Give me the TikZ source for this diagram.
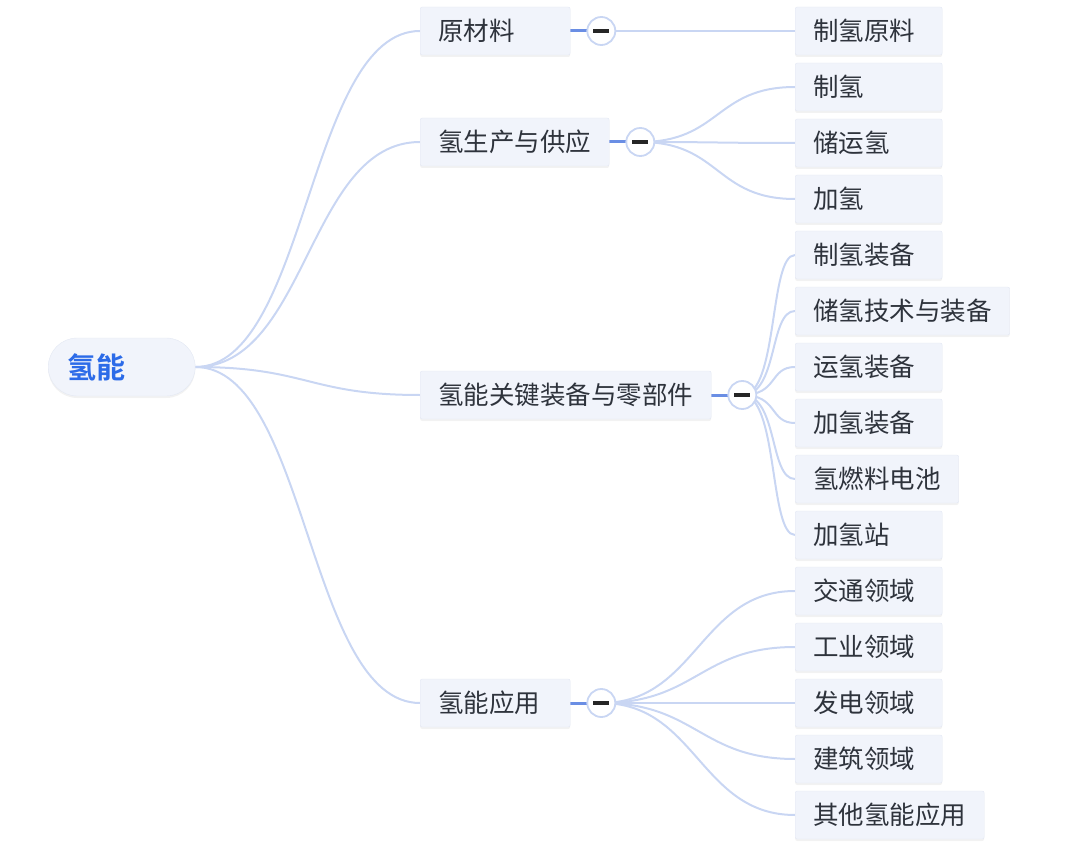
\documentclass[tikz,border=0pt]{standalone}
\usepackage{fontspec}
\setmainfont{Noto Sans CJK SC}[BoldFont={Noto Sans CJK SC Bold}]
\usetikzlibrary{positioning,shadows,backgrounds}

\definecolor{edgeblue}{HTML}{C9D6F3}
\definecolor{stemblue}{HTML}{6A8EE4}
\definecolor{rootblue}{HTML}{2C6BE8}
\definecolor{boxfill}{HTML}{F1F4FB}
\definecolor{boxline}{HTML}{E3E8F3}
\definecolor{textgray}{HTML}{2E333C}

\tikzset{
  box/.style={draw=boxline, fill=boxfill, rounded corners=2pt, anchor=west,
              inner xsep=18pt, inner ysep=0pt, minimum height=48pt,
              font=\fontsize{25.5}{29}\selectfont, text=textgray,
              drop shadow={opacity=0.10, shadow xshift=0pt, shadow yshift=-2pt}},
  shortbox/.style={box, text width=111pt, align=left},
  rootbox/.style={draw=boxline, fill=boxfill, rounded corners=29pt, anchor=west,
              inner xsep=19pt, inner ysep=0pt, minimum height=58pt,
              text width=109pt, align=left,
              font=\fontsize{29}{33}\selectfont\bfseries, text=rootblue,
              drop shadow={opacity=0.10, shadow xshift=0pt, shadow yshift=-2pt}},
  toggle/.style={circle, draw=edgeblue, fill=white, line width=1.8pt,
              minimum size=28pt, inner sep=0pt, text=black!85},
  edge/.style={draw=edgeblue, line width=2pt},
  stem/.style={draw=stemblue, line width=3pt}
}

\begin{document}
\begin{tikzpicture}[x=1pt, y=-1pt]
  \useasboundingbox (0,0) rectangle (1080,848);

  \node[rootbox] (h2) at (48,367) {氢能};

  % first level
  \node[box, text width=114pt, align=left] (raw) at (420,31) {原材料};
  \node[box] (sup) at (420,142) {氢生产与供应};
  \node[box] (equ) at (420,395) {氢能关键装备与零部件};
  \node[box, text width=114pt, align=left] (app) at (420,703) {氢能应用};

  \foreach \n in {raw,sup,equ,app}
    \node[toggle, right=16pt of \n] (\n T) {\rule[-1.75pt]{16pt}{3.5pt}};

  % second level
  \foreach \txt/\y/\sty in {制氢原料/31/shortbox, 制氢/87/shortbox,
      储运氢/143/shortbox, 加氢/199/shortbox, 制氢装备/255/shortbox,
      储氢技术与装备/311/box, 运氢装备/367/shortbox, 加氢装备/423/shortbox,
      氢燃料电池/479/box, 加氢站/535/shortbox, 交通领域/591/shortbox,
      工业领域/647/shortbox, 发电领域/703/shortbox, 建筑领域/759/shortbox,
      其他氢能应用/815/box}
    \node[\sty] (c\y) at (795,\y) {\txt};

  \begin{scope}[on background layer]
    \foreach \n in {raw,sup,equ,app}
      \draw[edge] (h2.east) .. controls +(112,0) and +(-112,0) .. (\n.west);
    \foreach \n in {raw,sup,equ,app}
      \draw[stem] (\n.east) -- (\n T.center);
    \draw[edge] (rawT.center) -- (c31.west);
    \foreach \y in {87,143,199}
      \draw[edge] (supT.center) .. controls +(80,0) and +(-80,0) .. (c\y.west);
    \foreach \y in {255,311,367,423,479,535}
      \draw[edge] (equT.center) .. controls +(36,0) and +(-26,0) .. (c\y.west);
    \foreach \y in {591,647,703,759,815}
      \draw[edge] (appT.center) .. controls +(95,0) and +(-95,0) .. (c\y.west);
  \end{scope}
\end{tikzpicture}
\end{document}
